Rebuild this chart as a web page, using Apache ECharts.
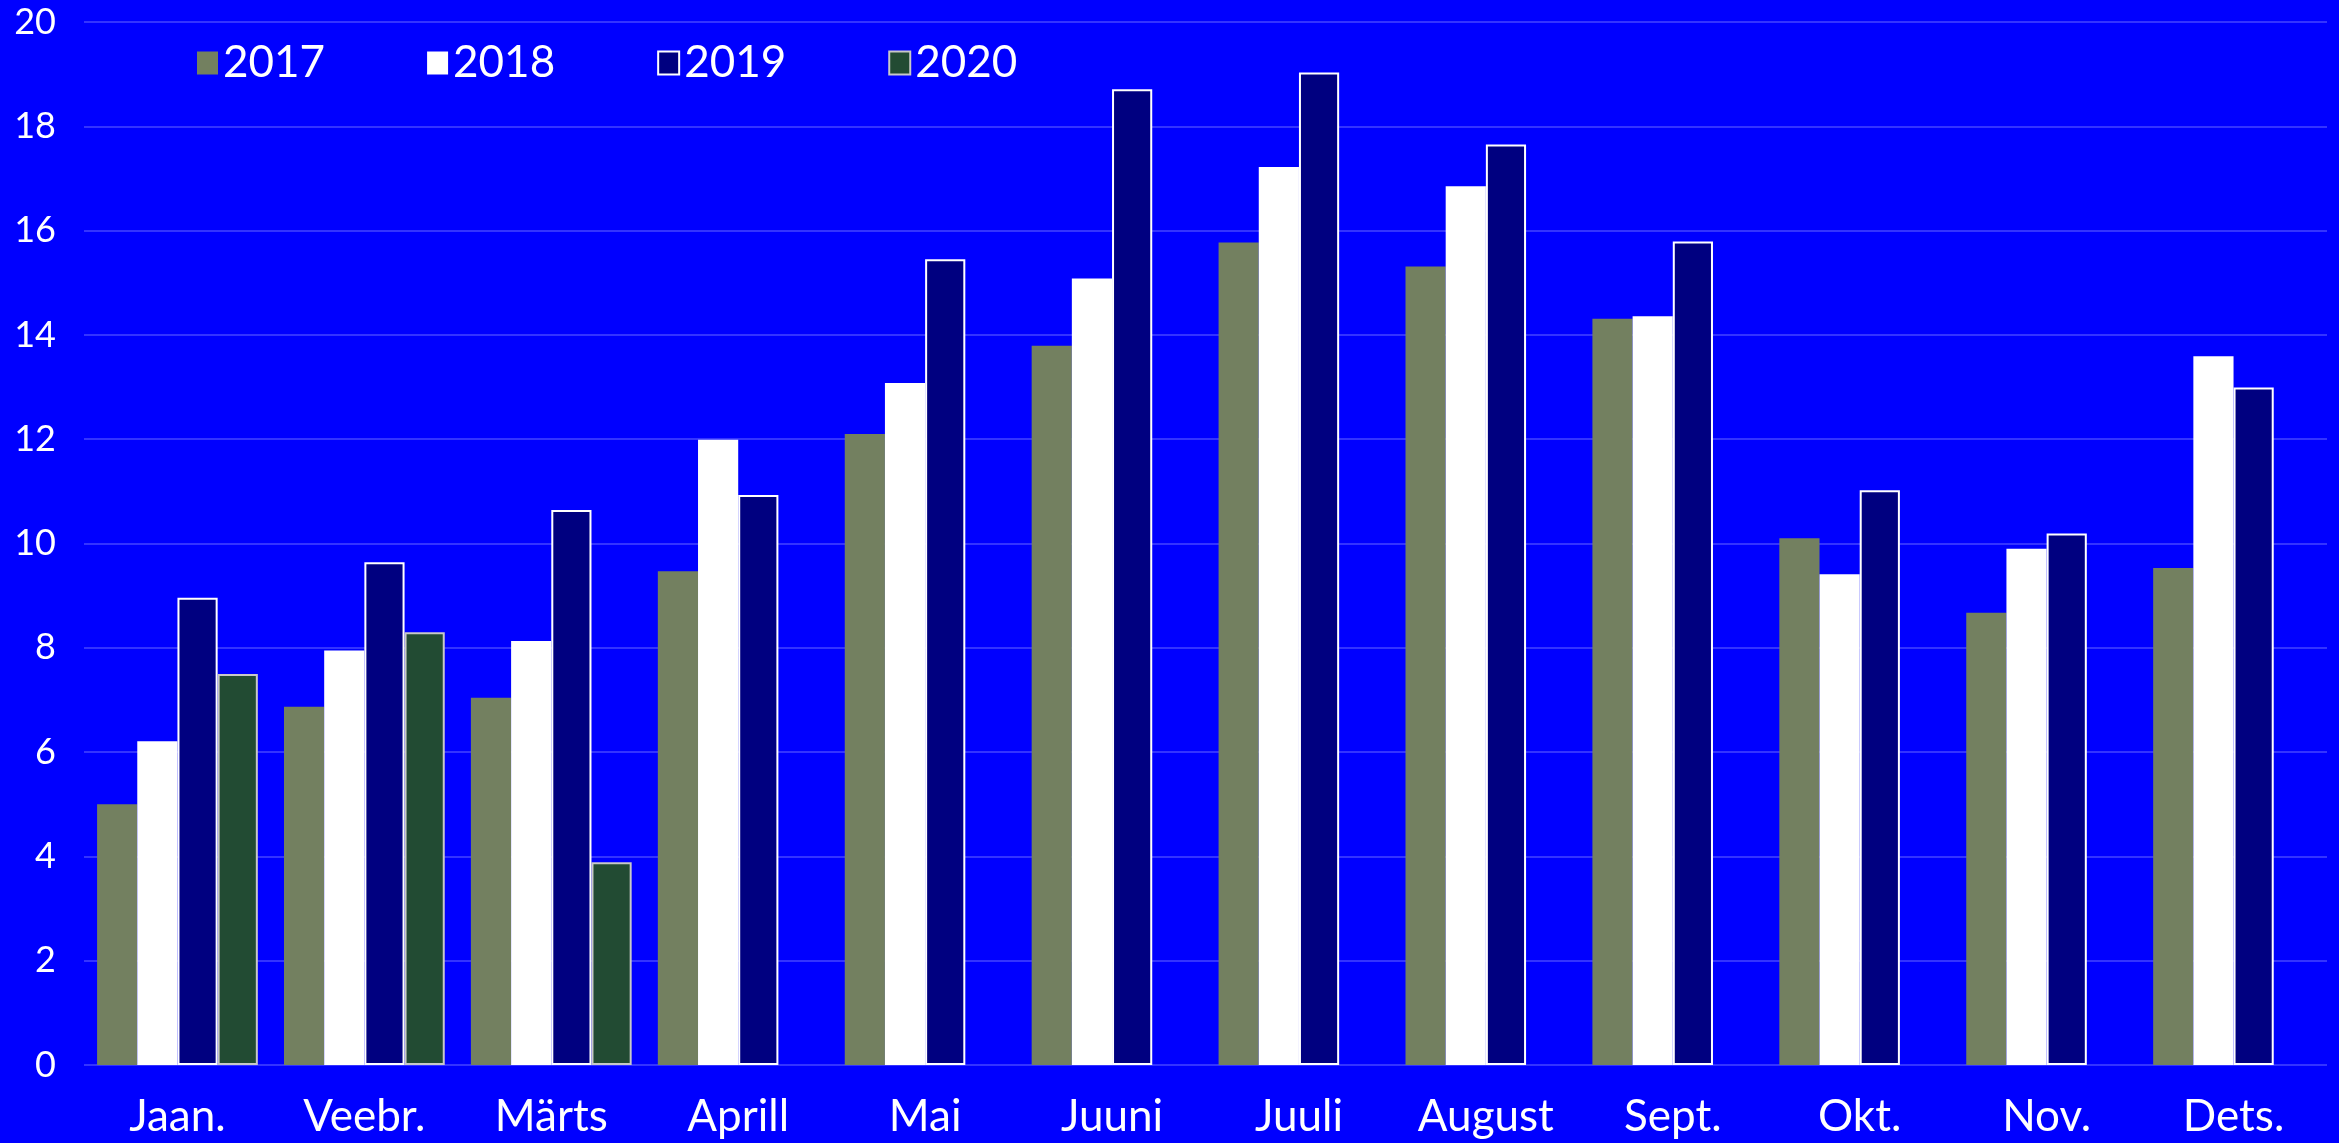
<!DOCTYPE html>
<html>
<head>
<meta charset="utf-8">
<script src="https://cdn.jsdelivr.net/npm/echarts@6/dist/echarts.min.js"></script>
<style>
  html, body { margin: 0; padding: 0; background: #0000ff; }
  #chart { width: 2339px; height: 1143px; }
</style>
</head>
<body>
<div id="chart"></div>
<script>
// kuud
const months = ['Jaan.', 'Veebr.', 'Märts', 'Aprill', 'Mai', 'Juuni', 'Juuli', 'August', 'Sept.', 'Okt.', 'Nov.', 'Dets.'];
// aastate väärtused
const y2017 = [5.0, 6.87, 7.04, 9.47, 12.1, 13.79, 15.77, 15.31, 14.31, 10.1, 8.67, 9.53];
const y2018 = [6.21, 7.95, 8.13, 11.99, 13.08, 15.08, 17.22, 16.85, 14.36, 9.41, 9.9, 13.59];
const y2019 = [8.96, 9.64, 10.64, 10.93, 15.45, 18.71, 19.03, 17.65, 15.79, 11.02, 10.19, 12.99];
const y2020 = [7.5, 8.3, 3.89, null, null, null, null, null, null, null, null, null];
const yTicks = [0, 2, 4, 6, 8, 10, 12, 14, 16, 18, 20];

const font = 'Lato';
const chart = echarts.init(document.getElementById('chart'));

chart.setOption({
  backgroundColor: '#0000ff',
  animation: false,
  textStyle: { fontFamily: font, color: '#fff' },
  grid: { left: 84, right: 12, top: 22, bottom: 78 },
  legend: {
    left: 192,
    top: 36,
    icon: 'rect',
    itemWidth: 21,
    itemHeight: 23,
    itemGap: 102,
    textStyle: { color: '#fff', fontSize: 44, fontFamily: font, width: 110 },
    data: ['2017', '2018', '2019', '2020']
  },
  xAxis: {
    type: 'category',
    data: months,
    axisLine: { show: false },
    axisTick: { show: false },
    axisLabel: { color: '#fff', fontSize: 44, margin: 30, fontFamily: font }
  },
  yAxis: {
    type: 'value',
    min: yTicks[0],
    max: yTicks[yTicks.length - 1],
    interval: 2,
    axisLine: { show: false },
    axisTick: { show: false },
    axisLabel: { color: '#fff', fontSize: 36, margin: 28, fontFamily: font },
    splitLine: { lineStyle: { color: '#4646ff', width: 1.5 } }
  },
  series: [
    {
      name: '2017', type: 'bar', data: y2017,
      barGap: '0%', barCategoryGap: '14%',
      itemStyle: { color: '#738060' }
    },
    {
      name: '2018', type: 'bar', data: y2018,
      itemStyle: { color: '#ffffff' }
    },
    {
      name: '2019', type: 'bar', data: y2019,
      itemStyle: { color: '#000080', borderColor: '#ffffff', borderWidth: 2 }
    },
    {
      name: '2020', type: 'bar', data: y2020,
      itemStyle: { color: '#224b33', borderColor: '#c8c8c8', borderWidth: 2 }
    }
  ]
});
</script>
</body>
</html>
